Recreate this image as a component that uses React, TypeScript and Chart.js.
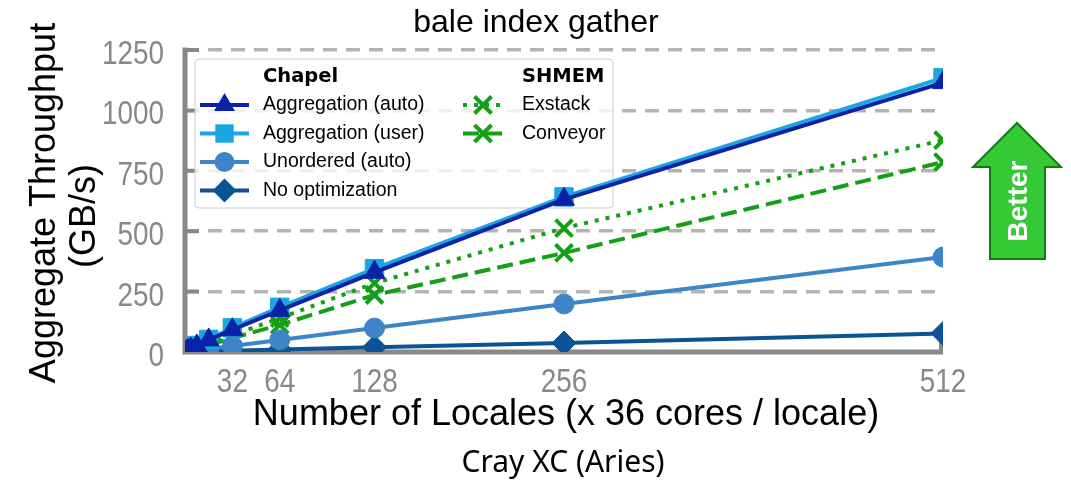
import React, { useEffect, useRef } from 'react';
import { Chart, registerables } from 'chart.js';

Chart.register(...registerables);

// ---- data ----
const locales = [1, 2, 4, 8, 16, 32, 64, 128, 256, 512];
const aggAuto = [3, 6, 12, 25, 50, 92, 172, 330, 632, 1115];
const aggUser = [3, 7, 13, 27, 52, 100, 185, 345, 642, 1135];
const unorderedAuto = [0.8, 1.5, 3, 6, 12, 25, 50, 99, 199, 393];
const noOptimization = [0.3, 0.6, 1.2, 2.5, 3, 5, 10, 20, 37, 77];
const exstack = [2, 4, 9, 18, 35, 70, 140, 285, 513, 877];
const conveyor = [2, 4, 7, 15, 29, 58, 112, 236, 410, 786];
const xTickValues = [32, 64, 128, 256, 512];
const yTickValues = [0, 250, 500, 750, 1000, 1250];

const chapelLabels = ['Aggregation (auto)', 'Aggregation (user)', 'Unordered (auto)', 'No optimization'];
const shmemLabels = ['Exstack', 'Conveyor'];
const titleText = 'bale index gather';
const yTitleLines = ['Aggregate Throughput', '(GB/s)'];
const xTitleText = 'Number of Locales (x 36 cores / locale)';
const subTitleText = 'Cray XC (Aries)';
const arrowText = 'Better';

const C_AUTO = '#0a22a5';
const C_USER = '#1aa6e0';
const C_UNORD = '#3d85c6';
const C_NOOPT = '#0b5394';
const C_GREEN = '#14a014';
const SPINE = '#888888';
const SANS = "'Liberation Sans', Arial, sans-serif";

function drawMarker(ctx: CanvasRenderingContext2D, style: string, x: number, y: number, r: number, color: string) {
  ctx.save();
  ctx.fillStyle = color;
  ctx.strokeStyle = color;
  ctx.setLineDash([]);
  ctx.lineWidth = 1;
  ctx.beginPath();
  if (style === 'triangle') {
    ctx.moveTo(x, y - r);
    ctx.lineTo(x + 0.866 * r, y + 0.5 * r);
    ctx.lineTo(x - 0.866 * r, y + 0.5 * r);
    ctx.closePath();
    ctx.fill();
  } else if (style === 'rect') {
    const s = Math.SQRT1_2 * r;
    ctx.rect(x - s, y - s, 2 * s, 2 * s);
    ctx.fill();
  } else if (style === 'circle') {
    ctx.arc(x, y, r, 0, Math.PI * 2);
    ctx.fill();
  } else if (style === 'rectRot') {
    ctx.moveTo(x - r, y);
    ctx.lineTo(x, y - r);
    ctx.lineTo(x + r, y);
    ctx.lineTo(x, y + r);
    ctx.closePath();
    ctx.fill();
  } else if (style === 'crossRot') {
    const d = Math.SQRT1_2 * r;
    ctx.lineWidth = 4;
    ctx.moveTo(x - d, y - d);
    ctx.lineTo(x + d, y + d);
    ctx.moveTo(x + d, y - d);
    ctx.lineTo(x - d, y + d);
    ctx.stroke();
  }
  ctx.restore();
}

const decor = {
  id: 'decor',
  beforeDatasetsDraw(chart: any) {
    const ctx: CanvasRenderingContext2D = chart.ctx;
    const { left, right, top, bottom } = chart.chartArea;
    const xs = chart.scales.x;
    const ys = chart.scales.y;
    ctx.save();
    // spines
    ctx.strokeStyle = SPINE;
    ctx.lineWidth = 5;
    ctx.setLineDash([]);
    ctx.beginPath();
    ctx.moveTo(left, top - 2.5);
    ctx.lineTo(left, bottom + 2.5);
    ctx.moveTo(left - 2.5, bottom);
    ctx.lineTo(right, bottom);
    ctx.stroke();
    // inward ticks
    ctx.lineWidth = 4;
    ctx.beginPath();
    ys.ticks.forEach((t: any) => {
      const py = ys.getPixelForValue(t.value);
      ctx.moveTo(left, py);
      ctx.lineTo(left + 14, py);
    });
    xs.ticks.forEach((t: any) => {
      const px = xs.getPixelForValue(t.value) - (t.value === 512 ? 2 : 0);
      ctx.moveTo(px, bottom);
      ctx.lineTo(px, bottom - 10);
    });
    ctx.stroke();

    // tick labels (condensed, grey), positioned by the chart's scales
    ctx.fillStyle = SPINE;
    ctx.font = `34px ${SANS}`;
    ctx.textBaseline = 'alphabetic';
    ys.ticks.forEach((t: any) => {
      const py = ys.getPixelForValue(t.value);
      ctx.save();
      ctx.translate(164, py + 14);
      ctx.scale(0.82, 1);
      ctx.textAlign = 'right';
      ctx.fillText(String(t.value), 0, 0);
      ctx.restore();
    });
    xs.ticks.forEach((t: any) => {
      const px = xs.getPixelForValue(t.value);
      ctx.save();
      ctx.translate(px, 392);
      ctx.scale(0.82, 1);
      ctx.textAlign = 'center';
      ctx.fillText(String(t.value), 0, 0);
      ctx.restore();
    });

    // legend box
    const bx = 195, by = 59, bw = 418, bh = 149, rr = 4;
    ctx.beginPath();
    ctx.moveTo(bx + rr, by);
    ctx.lineTo(bx + bw - rr, by);
    ctx.quadraticCurveTo(bx + bw, by, bx + bw, by + rr);
    ctx.lineTo(bx + bw, by + bh - rr);
    ctx.quadraticCurveTo(bx + bw, by + bh, bx + bw - rr, by + bh);
    ctx.lineTo(bx + rr, by + bh);
    ctx.quadraticCurveTo(bx, by + bh, bx, by + bh - rr);
    ctx.lineTo(bx, by + rr);
    ctx.quadraticCurveTo(bx, by, bx + rr, by);
    ctx.closePath();
    ctx.fillStyle = 'rgba(255,255,255,0.8)';
    ctx.fill();
    ctx.strokeStyle = '#cccccc';
    ctx.lineWidth = 1;
    ctx.stroke();

    ctx.fillStyle = '#000';
    ctx.textBaseline = 'middle';
    ctx.textAlign = 'left';
    ctx.font = "bold 19.5px 'DejaVu Sans', sans-serif";
    ctx.fillText('Chapel', 263, 77);
    ctx.fillText('SHMEM', 522, 77);

    const chapelStyles = [
      { c: C_AUTO, s: 'triangle', r: 12 },
      { c: C_USER, s: 'rect', r: 13 },
      { c: C_UNORD, s: 'circle', r: 10 },
      { c: C_NOOPT, s: 'rectRot', r: 12 },
    ];
    const rowsY = [105, 133.5, 162, 190.5];
    ctx.font = `19.5px ${SANS}`;
    chapelLabels.forEach((lab, i) => {
      const y = rowsY[i];
      const st = chapelStyles[i];
      ctx.save();
      ctx.strokeStyle = st.c;
      ctx.lineWidth = 4;
      ctx.beginPath();
      ctx.moveTo(200, y);
      ctx.lineTo(249, y);
      ctx.stroke();
      ctx.restore();
      drawMarker(ctx, st.s, 224.5, y, st.r, st.c);
      ctx.fillStyle = '#000';
      ctx.fillText(lab, 263, y);
    });
    const shmemDash = [[4, 7], [16, 7]];
    shmemLabels.forEach((lab, i) => {
      const y = rowsY[i];
      ctx.save();
      ctx.strokeStyle = C_GREEN;
      ctx.lineWidth = 4;
      ctx.setLineDash(shmemDash[i]);
      ctx.beginPath();
      ctx.moveTo(463, y);
      ctx.lineTo(503, y);
      ctx.stroke();
      ctx.restore();
      drawMarker(ctx, 'crossRot', 483, y, 12, C_GREEN);
      ctx.fillStyle = '#000';
      ctx.fillText(lab, 522, y);
    });
    ctx.restore();
  },
  afterDraw(chart: any) {
    const ctx: CanvasRenderingContext2D = chart.ctx;
    ctx.save();
    ctx.fillStyle = '#000';
    ctx.textAlign = 'center';
    ctx.textBaseline = 'alphabetic';
    // title
    ctx.font = `32px ${SANS}`;
    ctx.fillText(titleText, 536, 32);
    // x title
    ctx.font = `36px ${SANS}`;
    ctx.fillText(xTitleText, 566, 425);
    // sub title
    ctx.font = "30px 'Noto Sans', sans-serif";
    ctx.fillText(subTitleText, 563, 472);
    // y title
    ctx.font = `36px ${SANS}`;
    ctx.save();
    ctx.translate(55, 203);
    ctx.rotate(-Math.PI / 2);
    ctx.fillText(yTitleLines[0], 0, 0);
    ctx.restore();
    ctx.save();
    ctx.translate(95, 216);
    ctx.rotate(-Math.PI / 2);
    ctx.fillText(yTitleLines[1], 0, 0);
    ctx.restore();

    // Better arrow
    ctx.beginPath();
    ctx.moveTo(1017, 123);
    ctx.lineTo(1061, 167);
    ctx.lineTo(1045, 167);
    ctx.lineTo(1045, 259);
    ctx.lineTo(990, 259);
    ctx.lineTo(990, 167);
    ctx.lineTo(973, 167);
    ctx.closePath();
    ctx.fillStyle = '#35c935';
    ctx.fill();
    ctx.strokeStyle = '#137a13';
    ctx.lineWidth = 2;
    ctx.stroke();
    ctx.save();
    ctx.translate(1027, 201);
    ctx.rotate(-Math.PI / 2);
    ctx.fillStyle = '#fff';
    ctx.font = `bold 28px ${SANS}`;
    ctx.fillText(arrowText, 0, 0);
    ctx.restore();
    ctx.restore();
  },
};

export default function App() {
  const ref = useRef<HTMLCanvasElement>(null);
  useEffect(() => {
    const canvas = ref.current;
    if (!canvas) return;
    const mk = (ys: number[]) => locales.map((x, i) => ({ x, y: ys[i] }));
    const base = (label: string, data: number[], color: string, style: string, r: number) => ({
      label,
      data: mk(data),
      borderColor: color,
      backgroundColor: color,
      pointBackgroundColor: color,
      pointBorderColor: color,
      pointStyle: style,
      pointRadius: r,
      pointBorderWidth: 1,
      borderWidth: 4,
      tension: 0,
      fill: false,
    });
    const chart = new Chart(canvas, {
      type: 'line',
      data: {
        datasets: [
          base(chapelLabels[0], aggAuto, C_AUTO, 'triangle', 12),
          base(chapelLabels[1], aggUser, C_USER, 'rect', 13),
          base(chapelLabels[2], unorderedAuto, C_UNORD, 'circle', 10),
          base(chapelLabels[3], noOptimization, C_NOOPT, 'rectRot', 12),
          { ...base(shmemLabels[0], exstack, C_GREEN, 'crossRot', 12), pointBorderWidth: 4, borderDash: [4, 7] },
          { ...base(shmemLabels[1], conveyor, C_GREEN, 'crossRot', 12), pointBorderWidth: 4, borderDash: [16, 7] },
        ] as any,
      },
      options: {
        responsive: false,
        animation: false,
        layout: { padding: { left: 0, top: 50, right: 128, bottom: 0 } },
        plugins: {
          legend: { display: false },
          title: { display: false },
          tooltip: { enabled: false },
        },
        scales: {
          x: {
            type: 'linear',
            min: 0,
            max: 512,
            afterBuildTicks: (s: any) => {
              s.ticks = xTickValues.map((v) => ({ value: v }));
            },
            afterFit: (s: any) => {
              s.height = 128;
            },
            grid: { display: false, drawTicks: false },
            border: { display: false },
            ticks: { display: false },
          },
          y: {
            type: 'linear',
            min: 0,
            max: 1250,
            afterBuildTicks: (s: any) => {
              s.ticks = yTickValues.map((v) => ({ value: v }));
            },
            afterFit: (s: any) => {
              s.width = 185;
            },
            grid: {
              drawTicks: false,
              lineWidth: 3.5,
              color: (c: any) => (c.tick && c.tick.value === 0 ? 'rgba(0,0,0,0)' : '#b3b3b3'),
            },
            border: { display: false, dash: [14, 9] },
            ticks: { display: false },
          },
        },
      } as any,
      plugins: [decor],
    });
    return () => chart.destroy();
  }, []);
  return (
    <div style={{ position: 'absolute', left: 0, top: 0, width: 1071, height: 480, background: '#fff' }}>
      <canvas ref={ref} width={1071} height={480} style={{ display: 'block', width: 1071, height: 480 }} />
    </div>
  );
}
